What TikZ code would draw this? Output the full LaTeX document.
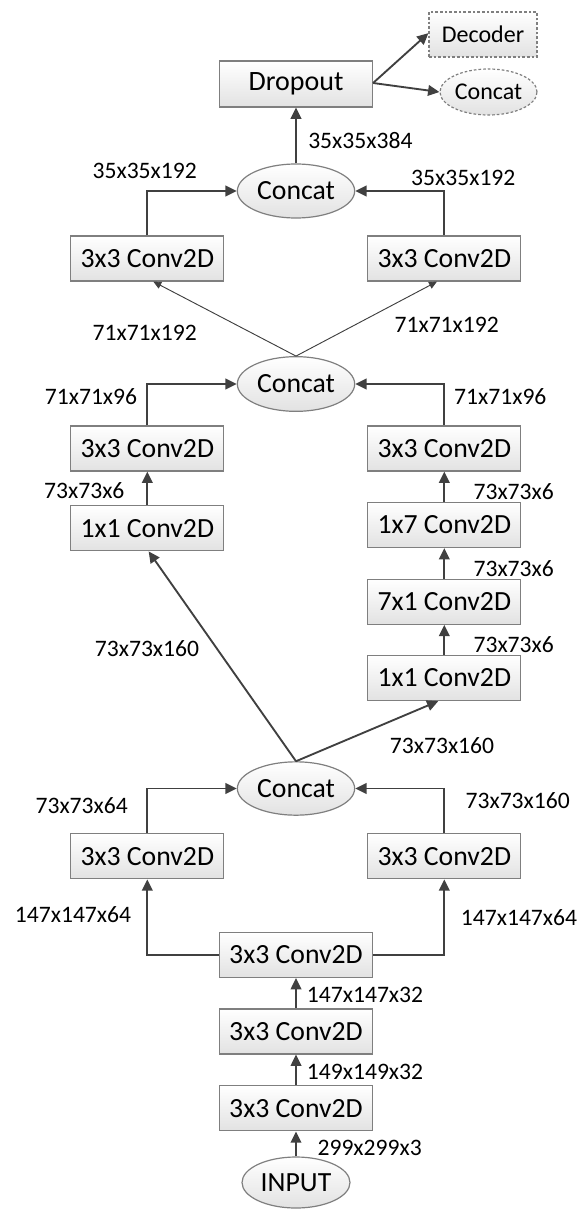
\documentclass[tikz,border=0pt]{standalone}
\usepackage{fontspec}
\setmainfont{Carlito}
\usetikzlibrary{shapes.geometric,arrows.meta}
\definecolor{linegray}{HTML}{404040}
\definecolor{bordergray}{HTML}{7F7F7F}
\definecolor{fillgray}{HTML}{E2E2E2}
\newcommand{\boxfnt}{\fontsize{20.8}{24}\selectfont}
\newcommand{\dropfnt}{\fontsize{21}{25}\selectfont}
\newcommand{\smallfnt}{\fontsize{18}{22}\selectfont}
\newcommand{\lblfnt}{\fontsize{17.7}{21}\selectfont}
\tikzset{
  box/.style={draw=bordergray, line width=0.9pt, top color=white, bottom color=fillgray,
    minimum width=114.75pt, minimum height=33.75pt, inner sep=0pt, font=\boxfnt},
  ell/.style={ellipse, draw=bordergray, line width=0.9pt, top color=white, bottom color=fillgray,
    minimum width=88pt, minimum height=40.5pt, inner sep=0pt, font=\boxfnt},
  lbl/.style={inner sep=0pt, font=\lblfnt},
  conn/.style={draw=linegray, line width=1.4pt, -{Triangle[length=8.5pt,width=8pt]}},
  thinconn/.style={draw=linegray, line width=0.7pt, -{Triangle[length=6pt,width=5.5pt]}},
}
\begin{document}
\begin{tikzpicture}[x=0.75pt,y=-0.75pt]
\useasboundingbox (0,0) rectangle (577,1209);

% top
\node[box, font=\dropfnt, minimum height=34.5pt] (drop) at (296,84) {Dropout};
\node[box, font=\smallfnt, dashed, dash pattern=on 2pt off 1.5pt, minimum width=81pt, minimum height=33.75pt] (dec) at (483,34.5) {Decoder};
\node[ell, font=\smallfnt, dashed, dash pattern=on 2pt off 1.5pt, minimum width=72.75pt, minimum height=34.5pt] (sconcat) at (488.5,92) {Concat};

\node[ell] (cA) at (296,191) {Concat};
\node[box] (aL) at (147.3,258.5) {3x3 Conv2D};
\node[box] (aR) at (444.3,258.5) {3x3 Conv2D};

\node[ell, minimum height=41pt] (cB) at (296,384) {Concat};
\node[box] (bL) at (147.3,448.5) {3x3 Conv2D};
\node[box] (bR) at (444.3,448.5) {3x3 Conv2D};
\node[box] (b1L) at (147.3,528.3) {1x1 Conv2D};
\node[box] (r17) at (444.3,525) {1x7 Conv2D};
\node[box] (r71) at (444.3,601.7) {7x1 Conv2D};
\node[box] (r11) at (444.3,678) {1x1 Conv2D};

\node[ell, minimum height=40pt] (cC) at (296,788.5) {Concat};
\node[box] (cL) at (147.3,856.3) {3x3 Conv2D};
\node[box] (cR) at (444.3,856.3) {3x3 Conv2D};

\node[box] (m1) at (296,955) {3x3 Conv2D};
\node[box] (m2) at (296,1031.5) {3x3 Conv2D};
\node[box] (m3) at (296,1108.3) {3x3 Conv2D};
\node[ell, minimum width=81pt, minimum height=38.25pt] (inp) at (296,1182.5) {INPUT};

% connectors
\draw[conn] (inp.north) -- (m3.south);
\draw[conn] (m3.north) -- (m2.south);
\draw[conn] (m2.north) -- (m1.south);
\draw[conn] (m1.west) -| (cL.south);
\draw[conn] (m1.east) -| (cR.south);
\draw[conn] (cL.north) |- (cC.west);
\draw[conn] (cR.north) |- (cC.east);
\draw[conn] (cC.north) -- ([xshift=1pt]b1L.south);
\draw[conn] (cC.north) -- ([xshift=-4.5pt]r11.south);
\draw[conn] (r11.north) -- (r71.south);
\draw[conn] (r71.north) -- (r17.south);
\draw[conn] (r17.north) -- (bR.south);
\draw[conn] (b1L.north) -- (bL.south);
\draw[conn] (bL.north) |- (cB.west);
\draw[conn] (bR.north) |- (cB.east);
\draw[thinconn] (cB.north) -- ([xshift=4.5pt]aL.south);
\draw[thinconn] (cB.north) -- ([xshift=-5.5pt]aR.south);
\draw[conn] (aL.north) |- (cA.west);
\draw[conn] (aR.north) |- (cA.east);
\draw[conn] (cA.north) -- (drop.south);
\draw[conn] ([yshift=0.75pt]drop.east) -- ([yshift=1pt]dec.west);
\draw[conn] ([yshift=0.75pt]drop.east) -- (sconcat.west);

% labels
\node[lbl, anchor=west] (l1) at (308,141) {35x35x384};
\node[lbl] (l2) at (144.7,171) {35x35x192};
\node[lbl] (l3) at (463.3,177.5) {35x35x192};
\node[lbl] (l4) at (144.7,332.5) {71x71x192};
\node[lbl] (l5) at (446.7,325) {71x71x192};
\node[lbl] (l6) at (91,396.5) {71x71x96};
\node[lbl] (l7) at (500.3,397) {71x71x96};
\node[lbl] (l8) at (84.3,491) {73x73x6};
\node[lbl] (l9) at (513.7,492) {73x73x6};
\node[lbl] (l10) at (513.7,569) {73x73x6};
\node[lbl] (l11) at (513.7,644.7) {73x73x6};
\node[lbl] (l12) at (147,649) {73x73x160};
\node[lbl] (l13) at (442,746) {73x73x160};
\node[lbl] (l14) at (81.7,805.7) {73x73x64};
\node[lbl] (l15) at (517.7,801) {73x73x160};
\node[lbl] (l16) at (73,914.5) {147x147x64};
\node[lbl] (l17) at (519,918) {147x147x64};
\node[lbl, anchor=west] (l18) at (306.7,995) {147x147x32};
\node[lbl, anchor=west] (l19) at (306.7,1071.5) {149x149x32};
\node[lbl, anchor=west] (l20) at (317.3,1148) {299x299x3};
\end{tikzpicture}
\end{document}
